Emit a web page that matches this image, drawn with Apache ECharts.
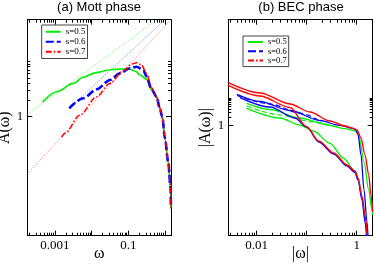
<!DOCTYPE html>
<html><head><meta charset="utf-8">
<script src="https://cdn.jsdelivr.net/npm/echarts@6/dist/echarts.min.js"></script>
<style>html,body{margin:0;padding:0;background:#fff}#c{width:374px;height:268px}</style>
</head><body><div id="c"></div>
<script>
// ---------- Panel (a) Mott phase : omega, A(omega) ----------
const aTailOmega = [0.590, 0.708, 0.849, 0.993, 1.222, 1.422, 1.449];
const aTailA     = [2.29, 1.48, 0.97, 0.408, 0.155, 0.0513, 0.0224];
const aOmega05 = [0.00046, 0.00112, 0.00316, 0.00589, 0.0126, 0.0316, 0.063, 0.110, 0.158, 0.207, 0.316, 0.426];
const aA05     = [1.85, 2.82, 3.98, 5.13, 6.17, 7.0, 7.24, 7.16, 6.6, 5.64, 4.75, 3.03];
const aOmega06 = [0.00245, 0.00589, 0.0138, 0.0316, 0.0589, 0.1107, 0.168, 0.255, 0.316, 0.426];
const aA06     = [1.42, 2.15, 3.12, 4.58, 6.05, 7.45, 7.96, 6.93, 5.25, 3.16];
const aOmega07 = [0.00152, 0.00187, 0.0048, 0.01368, 0.0315, 0.0726, 0.123, 0.168, 0.230, 0.315, 0.426];
const aA07     = [0.43, 0.502, 1.074, 2.29, 4.0, 6.75, 8.91, 9.40, 8.53, 6.05, 3.31];
// asymptotes (thin lines): end points, omega and A
const aAsym05_w = [0.000176, 1.0],  aAsym05_A = [1.09, 71.6];
const aAsym06_w = [0.00245, 1.04],  aAsym06_A = [1.42, 57.5];
const aAsym07_w = [0.000176, 1.45], aAsym07_A = [0.093, 56];

// ---------- Panel (b) BEC phase : |omega|, |A(omega)| ----------
const bRedU_w = [0.0027, 0.01164, 0.0463, 0.1164, 0.292, 0.583, 0.805, 1.014, 1.219, 1.466, 1.738, 1.932, 2.089];
const bRedU_A = [35.7, 15.2, 6.07, 3.12, 1.48, 0.975, 0.826, 0.70, 0.36, 0.0875, 0.0166, 0.00315, 0.000766];
const bRedL_w = [0.0027, 0.01164, 0.0463, 0.1, 0.174, 0.347, 0.640, 0.925, 1.062, 1.276, 1.466, 1.607];
const bRedL_A = [28.3, 11.8, 4.54, 0.92, 0.28, 0.103, 0.0381, 0.0232, 0.0129, 0.0029, 0.000597, 0.000123];
const bBlueU_w = [0.00404, 0.01164, 0.0463, 0.1845, 0.463, 0.925, 1.062, 1.219, 1.40, 1.607, 1.683];
const bBlueU_A = [13.6, 7.48, 3.54, 1.54, 1.02, 0.76, 0.50, 0.0875, 0.00477, 0.000334, 0.000104];
const bBlueL_w = [0.00463, 0.01845, 0.0583, 0.1, 0.174, 0.347, 0.640, 0.925, 1.062, 1.276, 1.466, 1.57];
const bBlueL_A = [10.4, 4.73, 1.90, 0.90, 0.258, 0.095, 0.0351, 0.0204, 0.011, 0.00208, 0.000334, 0.000104];
const bGreenU_w = [0.00631, 0.01845, 0.0734, 0.292, 0.583, 0.968, 1.112, 1.40, 1.738, 2.023, 2.089];
const bGreenU_A = [6.44, 3.85, 1.90, 1.02, 0.79, 0.644, 0.391, 0.049, 0.00477, 0.000906, 0.000597];
const bGreenL_w = [0.00631, 0.0292, 0.0734, 0.1355, 0.292, 0.540, 0.925, 1.062, 1.276, 1.535, 1.644];
const bGreenL_A = [4.25, 1.90, 1.06, 0.644, 0.232, 0.0682, 0.0232, 0.0129, 0.00267, 0.00026, 0.000104];
const bGreenD_w = [0.00631, 0.0292, 0.1355, 0.463];
const bGreenD_A = [5.14, 2.43, 1.36, 0.826];
const bBlueD_w = [0.00404, 0.01845, 0.0734, 0.1845];
const bBlueD_A = [12.3, 6.07, 2.87, 1.48];

// tick labels
const aXLabels = ['0.001', '0.1'];
const aYLabels = ['1'];
const bXLabels = ['0.01', '1'];
const bYLabels = ['1'];
const legendNames = ['s=0.5', 's=0.6', 's=0.7'];

// ---------- build ----------
const L = Math.log10;
const pts = (w, A) => w.map((v, i) => [L(v), L(A[i])]);
const GREEN = '#00ee00', BLUE = '#0000ff', RED = '#ff0000';
const serif = 'Liberation Serif';

const aXR = [-3.755, 0.163], aYR = [-2.144, 1.748];
const bXR = [-2.568, 0.32], bYR = [-3.971, 3.827];

function minors(range, ks) {
  const out = [];
  for (let d = Math.floor(range[0]) - 1; d <= Math.ceil(range[1]); d++)
    for (const k of ks) { const v = d + L(k); if (v > range[0] && v < range[1]) out.push(v); }
  return out;
}
function majors(range) { const o = []; for (let d = Math.ceil(range[0]); d <= Math.floor(range[1]); d++) o.push(d); return o; }

function axes(dim, g, range, majorVals, minorVals, labelTexts, name, nameGap) {
  const labVals = labelTexts.map(t => L(parseFloat(t)));
  const fmt = v => { const i = labVals.findIndex(x => Math.abs(x - v) < 1e-6); return i >= 0 ? labelTexts[i] : ''; };
  const pos = dim === 'x' ? ['bottom', 'top'] : ['left', 'right'];
  const base = { type: 'value', gridIndex: g, min: range[0], max: range[1], splitLine: { show: false } };
  const out = [];
  pos.forEach((p, pi) => {
    const main = Object.assign({}, base, {
      position: p,
      axisLine: { show: true, onZero: false, lineStyle: { color: '#000', width: 1 } },
      axisTick: { show: true, inside: true, length: 5, customValues: majorVals, lineStyle: { color: '#000', width: 1 } },
      axisLabel: pi === 0 ? { show: true, customValues: labVals, formatter: fmt, margin: dim === 'x' ? 3 : 4,
        fontFamily: serif, fontSize: 13, color: '#000' } : { show: false },
      name: pi === 0 ? name : '', nameLocation: 'middle', nameGap: nameGap,
      nameRotate: dim === 'y' ? 90 : 0,
      nameTextStyle: { fontFamily: serif, fontSize: 16, color: '#000' }
    });
    if (dim === 'x') main.nameMoveOverlap = false;
    out.push(main);
    out.push(Object.assign({}, base, {
      position: p,
      axisLine: { show: false, onZero: false },
      axisTick: { show: true, inside: true, length: 3, customValues: minorVals, lineStyle: { color: '#000', width: 1 } },
      axisLabel: { show: false }
    }));
  });
  return out;
}

const k29 = [2, 3, 4, 5, 6, 7, 8, 9];
const xAxis = [].concat(
  axes('x', 0, aXR, majors(aXR), minors(aXR, k29), aXLabels, 'ω', 10),
  axes('x', 1, bXR, majors(bXR), minors(bXR, k29), bXLabels, '|ω|', 10)
);
const yAxis = [].concat(
  axes('y', 0, aYR, [0], [2, 3, 4, 5, 6, 7, 8, 9, 10].map(L), aYLabels, 'A(ω)', 11),
  axes('y', 1, bYR, [0], [2, 3, 4, 5, 6, 7, 8, 9, 10].map(L), bYLabels, '|A(ω)|', 10)
);

function ser(name, data, xi, color, width, type, opacity, smooth) {
  return { type: 'line', name, data, xAxisIndex: xi, yAxisIndex: xi, symbol: 'none', showSymbol: false,
    smooth: smooth === undefined ? 0.3 : smooth, smoothMonotone: 'x', clip: true, silent: true,
    lineStyle: { color, width, type, opacity: opacity === undefined ? 1 : opacity }, itemStyle: { color }, z: 2 };
}
const A = 0, B = 4; // main axis index of each panel
const thinDot = [1.5, 1.2];
const series = [
  ser('a05asym', pts(aAsym05_w, aAsym05_A), A, GREEN, 0.8, thinDot, 0.6, false),
  ser('a06asym', pts(aAsym06_w, aAsym06_A), A, BLUE, 0.8, thinDot, 0.5, false),
  ser('a07asym', pts(aAsym07_w, aAsym07_A), A, RED, 0.8, thinDot, 0.5, false),
  ser(legendNames[0], pts(aOmega05.concat(aTailOmega), aA05.concat(aTailA)), A, GREEN, 1.6, 'solid'),
  ser(legendNames[1], pts(aOmega06.concat(aTailOmega), aA06.concat(aTailA)), A, BLUE, 2.6, [8, 3]),
  ser(legendNames[2], pts(aOmega07.concat(aTailOmega), aA07.concat(aTailA)), A, RED, 1.5, [6, 2, 1.5, 2]),
  ser('bGU', pts(bGreenU_w, bGreenU_A), B, GREEN, 1.3, 'solid'),
  ser('bGL', pts(bGreenL_w, bGreenL_A), B, GREEN, 1.3, 'solid'),
  ser('bGD', pts(bGreenD_w, bGreenD_A), B, GREEN, 1.2, [5, 3]),
  ser('bBU', pts(bBlueU_w, bBlueU_A), B, BLUE, 1.3, 'solid'),
  ser('bBL', pts(bBlueL_w, bBlueL_A), B, BLUE, 1.3, 'solid'),
  ser('bBD', pts(bBlueD_w, bBlueD_A), B, BLUE, 1.2, [5, 3]),
  ser('bRU', pts(bRedU_w, bRedU_A), B, RED, 1.4, 'solid'),
  ser('bRL', pts(bRedL_w, bRedL_A), B, RED, 1.4, 'solid')
];

const legendBase = { data: legendNames, orient: 'vertical', itemWidth: 15, itemHeight: 8, selectedMode: false,
  borderColor: '#444', borderWidth: 1, backgroundColor: '#fff', borderRadius: 0,
  itemStyle: { opacity: 0, borderWidth: 0 } };
const option = {
  animation: false,
  backgroundColor: '#fff',
  grid: [
    { left: 27.3, top: 19.7, width: 143.7, height: 216, outerBoundsMode: 'none', containLabel: false },
    { left: 228.3, top: 19.7, width: 144.4, height: 216, outerBoundsMode: 'none', containLabel: false }
  ],
  xAxis, yAxis, series,
  legend: [
    Object.assign({}, legendBase, { left: 41.7, top: 25, itemGap: 0.5, padding: [2, 2, 2, 3],
      textStyle: { fontFamily: serif, fontSize: 9, lineHeight: 9.5, color: '#000' } }),
    Object.assign({}, legendBase, { left: 243, top: 36, itemGap: 0.3, padding: [1.5, 2, 1.5, 4],
      textStyle: { fontFamily: serif, fontSize: 8.5, lineHeight: 8.5, color: '#000' } })
  ],
  graphic: [
    { type: 'text', x: 99, y: 1, style: { text: '(a) Mott phase', font: '13px "Liberation Sans"', fill: '#000', textAlign: 'center' } },
    { type: 'text', x: 301, y: 1, style: { text: '(b) BEC phase', font: '13px "Liberation Sans"', fill: '#000', textAlign: 'center' } }
  ]
};
const chart = echarts.init(document.getElementById('c'), null, { renderer: 'canvas' });
chart.setOption(option);
</script></body></html>
